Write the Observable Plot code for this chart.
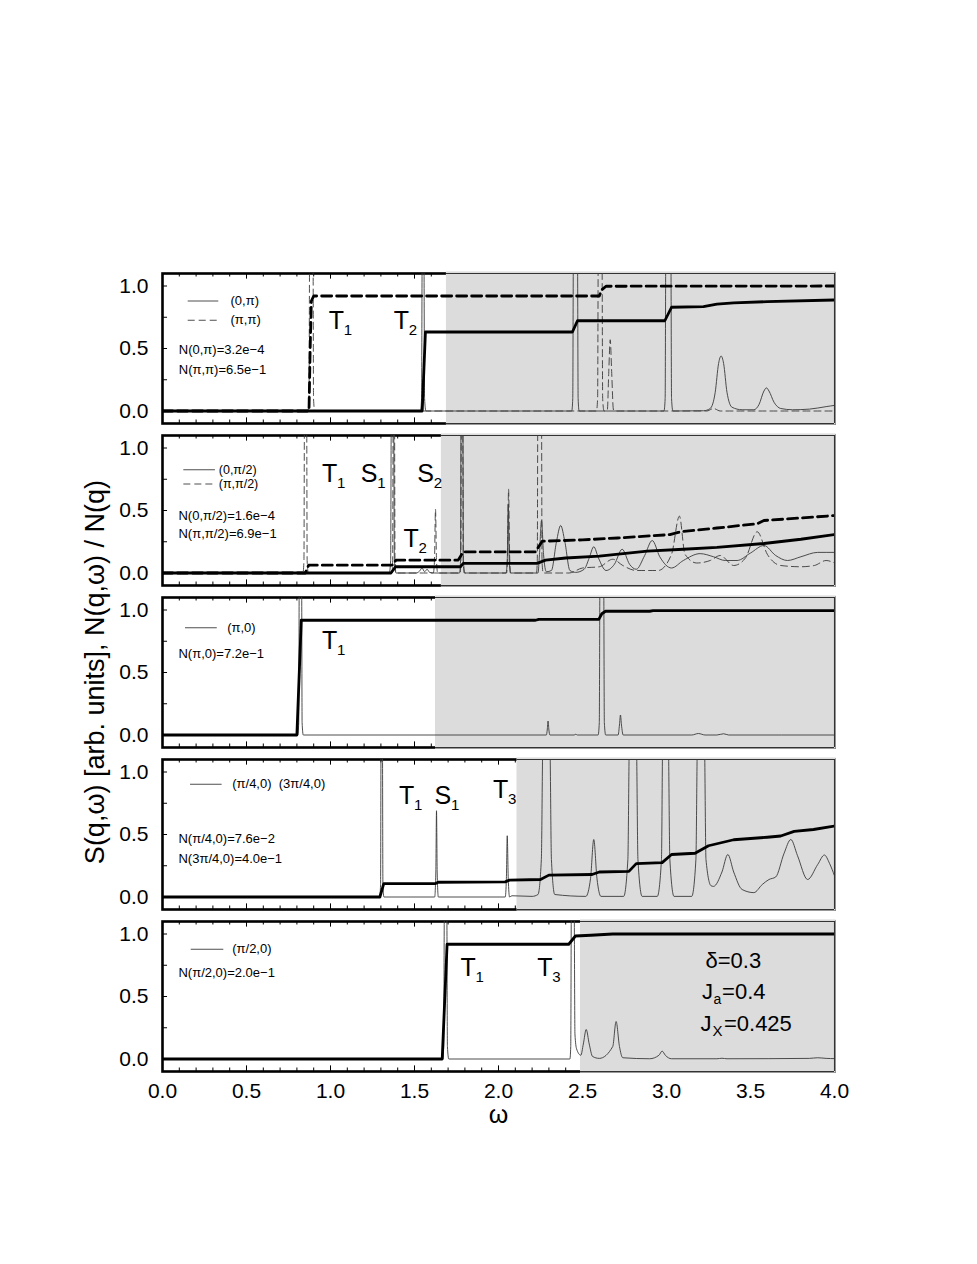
<!DOCTYPE html>
<html><head><meta charset="utf-8">
<script src="https://cdn.jsdelivr.net/npm/d3@7"></script>
<script src="https://cdn.jsdelivr.net/npm/@observablehq/plot@0.6"></script>
<style>
html,body{margin:0;padding:0;background:#fff;}
#chart{position:relative;width:977px;height:1264px;font-family:"Liberation Sans",Arial,sans-serif;}
</style></head>
<body><div id="chart"></div>
<script>
// ---------------- data ----------------
const xTickLabels = [0, 0.5, 1, 1.5, 2, 2.5, 3, 3.5, 4];
const yTickLabels = [0, 0.5, 1];
const yMinorTicks = [0, 0.25, 0.5, 0.75, 1];
const xMinorTicks = [0.1,0.2,0.3,0.4,0.6,0.7,0.8,0.9,1.1,1.2,1.3,1.4,1.6,1.7,1.8,1.9,2.1,2.2,2.3,2.4,2.6,2.7,2.8,2.9,3.1,3.2,3.3,3.4,3.6,3.7,3.8,3.9];
const xMajorTicks = [0.5, 1, 1.5, 2, 2.5, 3, 3.5];
const shadeStart = [1.69, 1.66, 1.625, 2.11, 2.488];

// Panel 1: q=(0,pi) solid, (pi,pi) dashed
const N_0_pi = [[0,0],[1.546,0],[1.565,0.632],[2.44,0.632],[2.47,0.722],[2.99,0.722],[3.03,0.83],[3.22,0.835],[3.3,0.855],[3.4,0.865],[3.6,0.875],[4.0,0.888]];
const N_pi_pi = [[0,0],[0.872,0],[0.879,0.5],[0.886,0.88],[0.9,0.92],[2.6,0.92],[2.615,0.97],[2.64,0.998],[4.0,1.0]];
const S_0_pi = [[0,0],[1.535,0],[1.542,0.1],[1.546,1.3],[1.556,1.3],[1.56,0.1],[1.568,0],[2.436,0],[2.442,0.1],[2.446,1.3],[2.47,1.3],[2.474,0.1],[2.48,0],[2.985,0],[2.992,0.1],[2.996,1.3],[3.026,1.3],[3.03,0.1],[3.038,0],[3.22,0.002],[3.26,0.02],[3.29,0.15],[3.31,0.38],[3.325,0.44],[3.34,0.38],[3.36,0.15],[3.39,0.03],[3.45,0.01],[3.52,0.01],[3.55,0.05],[3.58,0.16],[3.595,0.185],[3.61,0.16],[3.64,0.07],[3.68,0.02],[3.75,0.01],[3.85,0.015],[3.95,0.035],[4.0,0.045]];
const S_pi_pi = [[0,0],[0.865,0],[0.872,0.1],[0.876,1.3],[0.896,1.3],[0.899,0.1],[0.906,0],[2.583,0],[2.59,0.1],[2.594,1.3],[2.616,1.3],[2.62,0.1],[2.628,0],[2.648,0.01],[2.656,0.3],[2.665,0.57],[2.674,0.3],[2.684,0.01],[2.7,0],[3.24,0],[3.28,0.02],[3.32,0],[4.0,0]];

// Panel 2: q=(0,pi/2) solid, (pi,pi/2) dashed
const N_0_pi2 = [[0,0],[1.36,0],[1.387,0.05],[1.774,0.05],[1.79,0.077],[2.23,0.077],[2.28,0.103],[2.40,0.12],[2.6,0.135],[2.885,0.175],[3.1,0.19],[3.3,0.205],[3.58,0.236],[3.8,0.27],[4.0,0.307]];
const N_pi_pi2 = [[0,0],[0.85,0],[0.87,0.063],[1.367,0.063],[1.39,0.103],[1.76,0.103],[1.79,0.169],[2.22,0.169],[2.26,0.254],[2.5,0.265],[2.71,0.28],[3.02,0.307],[3.07,0.325],[3.1,0.333],[3.3,0.36],[3.54,0.394],[3.58,0.42],[3.8,0.44],[4.0,0.46]];
const S_0_pi2 = [[0,0],[1.35,0],[1.358,0.1],[1.362,1.3],[1.376,1.3],[1.38,0.1],[1.39,0],[1.51,0],[1.53,0.015],[1.545,0.04],[1.56,0.01],[1.575,0.03],[1.59,0.005],[1.62,0],[1.768,0],[1.774,0.1],[1.777,1.3],[1.788,1.3],[1.791,0.1],[1.8,0],[2.045,0],[2.052,0.1],[2.058,0.55],[2.064,0.1],[2.072,0],[2.235,0],[2.244,0.15],[2.256,0.42],[2.268,0.15],[2.285,0.01],[2.315,0.02],[2.345,0.25],[2.37,0.38],[2.395,0.25],[2.425,0.02],[2.46,0.005],[2.51,0.03],[2.54,0.12],[2.567,0.21],[2.595,0.12],[2.64,0.02],[2.69,0.07],[2.736,0.19],[2.78,0.07],[2.82,0.03],[2.87,0.14],[2.915,0.26],[2.96,0.13],[3.03,0.04],[3.1,0.1],[3.2,0.155],[3.28,0.13],[3.35,0.1],[3.42,0.1],[3.5,0.16],[3.58,0.22],[3.65,0.14],[3.72,0.1],[3.8,0.13],[3.9,0.165],[4.0,0.165]];
const S_pi_pi2 = [[0,0],[0.836,0],[0.842,0.1],[0.845,1.3],[0.858,1.3],[0.861,0.1],[0.868,0],[1.366,0],[1.37,0.1],[1.373,1.3],[1.381,1.3],[1.384,0.1],[1.39,0],[1.612,0],[1.619,0.1],[1.625,0.51],[1.631,0.1],[1.638,0],[1.772,0],[1.776,0.1],[1.779,1.3],[1.787,1.3],[1.79,0.1],[1.796,0],[2.048,0],[2.054,0.15],[2.06,0.67],[2.066,0.15],[2.072,0],[2.226,0],[2.231,0.1],[2.234,1.3],[2.256,1.3],[2.259,0.1],[2.266,0],[2.42,0],[2.5,0.04],[2.6,0.05],[2.68,0.11],[2.74,0.06],[2.82,0.02],[2.95,0.02],[3.03,0.15],[3.077,0.455],[3.11,0.15],[3.18,0.08],[3.26,0.1],[3.32,0.14],[3.4,0.06],[3.47,0.12],[3.54,0.33],[3.6,0.15],[3.68,0.06],[3.8,0.05],[3.88,0.06],[3.95,0.1],[4.0,0.08]];

// Panel 3: q=(pi,0)
const N_pi_0 = [[0,0],[0.80,0],[0.826,0.918],[2.22,0.918],[2.24,0.925],[2.597,0.925],[2.615,0.97],[2.637,0.99],[2.9,0.99],[2.92,0.995],[4.0,0.995]];
const S_pi_0 = [[0,0],[0.805,0],[0.811,0.1],[0.814,1.3],[0.828,1.3],[0.831,0.1],[0.838,0],[2.285,0],[2.29,0.04],[2.295,0.112],[2.30,0.04],[2.306,0],[2.45,0],[2.46,0.006],[2.47,0],[2.593,0],[2.6,0.1],[2.604,1.3],[2.626,1.3],[2.63,0.1],[2.638,0],[2.712,0],[2.72,0.08],[2.726,0.16],[2.732,0.08],[2.742,0],[3.15,0],[3.19,0.012],[3.23,0],[3.3,0],[3.34,0.01],[3.37,0],[4.0,0]];

// Panel 4: q=(pi/4,0), (3pi/4,0)
const N_pi4_0 = [[0,0],[1.294,0],[1.317,0.107],[1.625,0.107],[1.64,0.118],[2.04,0.121],[2.065,0.135],[2.25,0.14],[2.30,0.175],[2.557,0.18],[2.6,0.2],[2.776,0.205],[2.82,0.267],[2.974,0.275],[3.03,0.34],[3.17,0.35],[3.25,0.41],[3.4,0.458],[3.6,0.478],[3.68,0.488],[3.76,0.525],[3.875,0.54],[4.0,0.568]];
const S_pi4_0 = [[0,0],[1.293,0],[1.298,0.1],[1.301,1.3],[1.309,1.3],[1.312,0.1],[1.318,0],[1.62,0],[1.627,0.2],[1.631,0.69],[1.635,0.2],[1.642,0],[2.04,0],[2.047,0.15],[2.052,0.49],[2.058,0.15],[2.066,0],[2.08,0.01],[2.2,0.005],[2.235,0.02],[2.255,0.3],[2.265,1.3],[2.305,1.3],[2.315,0.3],[2.335,0.02],[2.52,0.005],[2.548,0.15],[2.567,0.46],[2.586,0.15],[2.61,0.005],[2.745,0.005],[2.77,0.3],[2.78,1.3],[2.82,1.3],[2.83,0.3],[2.855,0.005],[2.945,0.005],[2.97,0.3],[2.978,1.3],[3.01,1.3],[3.02,0.3],[3.045,0.005],[3.15,0.005],[3.175,0.3],[3.185,1.3],[3.225,1.3],[3.235,0.3],[3.265,0.09],[3.28,0.085],[3.33,0.2],[3.365,0.34],[3.4,0.2],[3.45,0.06],[3.52,0.035],[3.57,0.1],[3.61,0.14],[3.65,0.16],[3.7,0.35],[3.74,0.46],[3.78,0.33],[3.84,0.14],[3.9,0.26],[3.94,0.336],[3.97,0.27],[4.0,0.17]];

// Panel 5: q=(pi/2,0)
const N_pi2_0 = [[0,0],[1.665,0],[1.694,0.918],[2.418,0.918],[2.458,0.984],[2.55,0.99],[2.68,1.0],[4.0,1.0]];
const S_pi2_0 = [[0,0],[1.668,0],[1.674,0.1],[1.678,1.3],[1.692,1.3],[1.696,0.1],[1.704,0],[2.425,0],[2.43,0.1],[2.434,1.3],[2.45,1.3],[2.455,0.2],[2.465,0.08],[2.49,0.03],[2.505,0.12],[2.522,0.236],[2.54,0.12],[2.56,0.02],[2.6,0.005],[2.68,0.1],[2.70,0.30],[2.72,0.1],[2.74,0.01],[2.9,0.002],[2.955,0.03],[2.974,0.063],[2.993,0.03],[3.03,0.002],[3.3,0.002],[3.33,0.006],[3.36,0.002],[3.85,0.005],[3.9,0.01],[3.95,0.005],[4.0,0.003]];

// ---------------- styles ----------------
const FONT = '"Liberation Sans", Arial, Helvetica, sans-serif';
const THIN = {stroke: "#3a3a3a", strokeWidth: 0.9, curve: "monotone-x", clip: true};
const THIN_DASH = {...THIN, strokeDasharray: "7,4"};
const THICK = {stroke: "#000", strokeWidth: 2.8, strokeLinejoin: "round", clip: true};
const THICK_DASH = {...THICK, strokeDasharray: "10,5"};

function txt(x, y, pieces, anchor = "bottom") {
  return pieces.map(([t, size, dx, dy]) => Plot.text([{x, y, t}], {
    x: "x", y: "y", text: "t", fontSize: size, dx, dy,
    textAnchor: "start", lineAnchor: anchor, fill: "#000"
  }));
}
function legendLine(y, x1, x2, dash) {
  return Plot.ruleY([{y, x1, x2}], {y: "y", x1: "x1", x2: "x2", stroke: "#3a3a3a", strokeWidth: 0.9, strokeDasharray: dash || null});
}
function sym(x, y, a, b) { return txt(x, y, [[a, 25, 0, 0], [b, 15, a === "S" ? 16.5 : 15, 6]]); }

const panels = [
  {
    lines: [[S_0_pi, THIN], [S_pi_pi, THIN_DASH], [N_0_pi, THICK], [N_pi_pi, THICK_DASH]],
    notes: [
      legendLine(0.88, 0.153, 0.335), ...txt(0.405, 0.88, [["(0,π)", 13, 0, 0]], "middle"),
      legendLine(0.726, 0.153, 0.335, "7,4"), ...txt(0.405, 0.726, [["(π,π)", 13, 0, 0]], "middle"),
      ...txt(0.097, 0.486, [["N(0,π)=3.2e−4", 13, 0, 0]], "middle"),
      ...txt(0.097, 0.326, [["N(π,π)=6.5e−1", 13, 0, 0]], "middle"),
      ...sym(0.99, 0.659, "T", "1"), ...sym(1.377, 0.659, "T", "2")
    ]
  },
  {
    lines: [[S_0_pi2, THIN], [S_pi_pi2, THIN_DASH], [N_0_pi2, THICK], [N_pi_pi2, THICK_DASH]],
    notes: [
      legendLine(0.826, 0.127, 0.315), ...txt(0.335, 0.826, [["(0,π/2)", 12.5, 0, 0]], "middle"),
      legendLine(0.712, 0.127, 0.315, "7,4"), ...txt(0.335, 0.712, [["(π,π/2)", 12.5, 0, 0]], "middle"),
      ...txt(0.095, 0.46, [["N(0,π/2)=1.6e−4", 13, 0, 0]], "middle"),
      ...txt(0.095, 0.315, [["N(π,π/2)=6.9e−1", 13, 0, 0]], "middle"),
      ...sym(0.95, 0.725, "T", "1"), ...sym(1.18, 0.725, "S", "1"),
      ...sym(1.516, 0.725, "S", "2"), ...sym(1.435, 0.209, "T", "2")
    ]
  },
  {
    lines: [[S_pi_0, THIN], [N_pi_0, THICK]],
    notes: [
      legendLine(0.858, 0.137, 0.326), ...txt(0.385, 0.858, [["(π,0)", 13, 0, 0]], "middle"),
      ...txt(0.095, 0.646, [["N(π,0)=7.2e−1", 13, 0, 0]], "middle"),
      ...sym(0.95, 0.686, "T", "1")
    ]
  },
  {
    lines: [[S_pi4_0, THIN], [N_pi4_0, THICK]],
    notes: [
      legendLine(0.902, 0.167, 0.355), ...txt(0.415, 0.902, [["(π/4,0)\u00a0\u00a0(3π/4,0)", 13, 0, 0]], "middle"),
      ...txt(0.095, 0.462, [["N(π/4,0)=7.6e−2", 13, 0, 0]], "middle"),
      ...txt(0.095, 0.302, [["N(3π/4,0)=4.0e−1", 13, 0, 0]], "middle"),
      ...sym(1.407, 0.742, "T", "1"), ...sym(1.619, 0.742, "S", "1"), ...sym(1.968, 0.794, "T", "3")
    ]
  },
  {
    lines: [[S_pi2_0, THIN], [N_pi2_0, THICK]],
    notes: [
      legendLine(0.878, 0.171, 0.365), ...txt(0.415, 0.878, [["(π/2,0)", 13, 0, 0]], "middle"),
      ...txt(0.095, 0.69, [["N(π/2,0)=2.0e−1", 13, 0, 0]], "middle"),
      ...sym(1.774, 0.664, "T", "1"), ...sym(2.23, 0.664, "T", "3"),
      ...txt(3.232, 0.73, [["δ=0.3", 22, 0, 0]]),
      ...txt(3.212, 0.478, [["J", 22, 0, 0], ["a", 14, 11.5, 5], ["=0.4", 22, 20, 0]]),
      ...txt(3.202, 0.224, [["J", 22, 0, 0], ["X", 15, 12, 5], ["=0.425", 22, 23.5, 0]])
    ]
  }
];

const PANEL_TOPS = [273, 435, 597, 759, 921];
const PANEL_H = 150, MT = 12;
const chart = document.getElementById("chart");

panels.forEach((p, k) => {
  const last = k === panels.length - 1;
  const MB = last ? 90 : 12;
  const g = shadeStart[k];
  const marks = [
    Plot.frame({stroke: "#000", strokeWidth: 2.6}),
    Plot.ruleX(xMinorTicks, {y1: -0.1, y2: -0.072, stroke: "#000", strokeWidth: 1}),
    Plot.ruleX(xMajorTicks, {y1: -0.1, y2: -0.055, stroke: "#000", strokeWidth: 1}),
    Plot.ruleX(xMinorTicks, {y1: 1.072, y2: 1.1, stroke: "#000", strokeWidth: 1}),
    Plot.ruleX(xMajorTicks, {y1: 1.055, y2: 1.1, stroke: "#000", strokeWidth: 1}),
    Plot.ruleY(yMinorTicks, {x1: 0, x2: 0.03, stroke: "#000", strokeWidth: 1}),
    Plot.rect([{x1: g, x2: 4}], {x1: "x1", x2: "x2", y1: -0.1, y2: 1.1, fill: "#dcdcdc",
      insetTop: -1.6, insetBottom: -1.6, insetRight: -1.6}),
    Plot.ruleY([{y: 1.1}, {y: -0.1}], {y: "y", x1: g, x2: 4, stroke: "#333", strokeWidth: 1.1}),
    Plot.ruleX([4], {y1: -0.1, y2: 1.1, stroke: "#333", strokeWidth: 1.1}),
    ...p.lines.map(([d, st]) => Plot.line(d, st)),
    ...p.notes,
    Plot.axisY({ticks: yTickLabels, tickSize: 0, tickPadding: 14, tickFormat: d3.format(".1f"), fontSize: 21, label: null})
  ];
  if (last) {
    marks.push(Plot.axisX({ticks: xTickLabels, tickSize: 0, tickPadding: 12, tickFormat: d3.format(".1f"), fontSize: 21, label: null}));
    marks.push(Plot.text(["ω"], {frameAnchor: "bottom", dy: 51.5, lineAnchor: "bottom", fontSize: 25}));
  }
  const svg = Plot.plot({
    width: 977, height: PANEL_H + MT + MB,
    marginLeft: 162, marginRight: 143, marginTop: MT, marginBottom: MB,
    x: {domain: [0, 4], ...(last ? {} : {axis: null})},
    y: {domain: [-0.1, 1.1]},
    style: {fontFamily: FONT, fontSize: "13px", overflow: "visible", background: "transparent"},
    marks
  });
  svg.style.position = "absolute";
  svg.style.left = "0px";
  svg.style.top = (PANEL_TOPS[k] - MT) + "px";
  chart.appendChild(svg);
});

// y-axis title
const ys = d3.select(chart).append("svg")
  .attr("width", 977).attr("height", 1264)
  .style("position", "absolute").style("left", "0px").style("top", "0px").style("pointer-events", "none");
ys.append("text")
  .attr("transform", "translate(104,672) rotate(-90)")
  .attr("text-anchor", "middle")
  .attr("font-family", FONT)
  .attr("font-size", 27)
  .text("S(q,ω) [arb. units], N(q,ω) / N(q)");
</script></body></html>
